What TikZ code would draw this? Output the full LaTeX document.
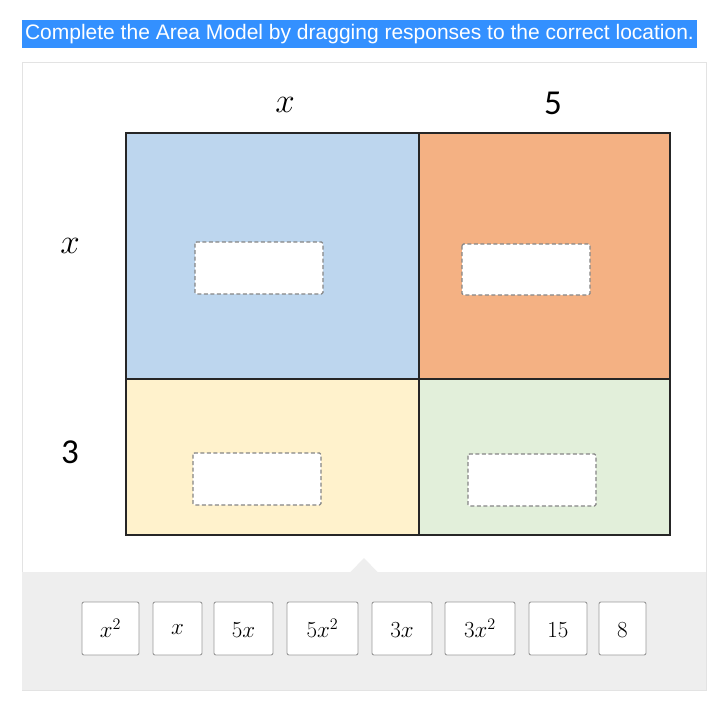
\RequirePackage{fix-cm}
\documentclass[tikz,border=0pt]{standalone}
\usepackage{fontspec}
\setmainfont{Liberation Sans}
\newfontfamily\calib{Carlito}
\definecolor{hlblue}{HTML}{3390FF}
\definecolor{cblue}{HTML}{BDD6EE}
\definecolor{corange}{HTML}{F4B183}
\definecolor{cyellow}{HTML}{FFF2CC}
\definecolor{cgreen}{HTML}{E2EFDA}
\definecolor{tray}{HTML}{EEEEEE}
\definecolor{panelline}{HTML}{E3E3E3}
\definecolor{dashgray}{HTML}{858585}
\definecolor{tileline}{HTML}{9A9A9A}
\tikzset{
  cell/.style={draw=black!85, line width=1.1pt},
  dropbox/.style={draw=dashgray, fill=white, line width=1.1pt, dash pattern=on 4pt off 2.5pt, rounded corners=1.5pt},
  tile/.style={draw=tileline, fill=white, line width=0.9pt, rounded corners=2pt},
  tiletxt/.style={font=\fontsize{23}{26}\selectfont},
  axlab/.style={font=\calib\fontsize{35}{40}\selectfont},
  axvar/.style={font=\fontsize{35}{40}\selectfont}
}
\begin{document}
\begin{tikzpicture}[x=1pt,y=-1pt]
\useasboundingbox (0,0) rectangle (723,715);
\fill[white] (0,0) rectangle (723,715);
% header
\fill[hlblue] (22,20) rectangle (697,48);
\node[text=white, font=\fontsize{21}{24}\selectfont, anchor=center] (title) at (359.5,34) {Complete the Area Model by dragging responses to the correct location.};
% panel
\draw[panelline, line width=0.8pt] (22,62) rectangle (706,690);
% tray
\fill[tray] (22.4,572) rectangle (705.6,689.6);
\fill[tray] (350,572.5) -- (364,558) -- (378,572.5) -- cycle;
% grid cells
\fill[cblue] (126,133) rectangle (419,379);
\fill[corange] (419,133) rectangle (670,379);
\fill[cyellow] (126,379) rectangle (419,535);
\fill[cgreen] (419,379) rectangle (670,535);
\draw[cell] (126,133) rectangle (670,535);
\draw[cell] (419,133) -- (419,535);
\draw[cell] (126,379) -- (670,379);
% axis labels
\node[axvar] (tx) at (285,105) {$x$};
\node[axlab] (t5) at (553,103.5) {5};
\node[axvar] (lx) at (70,245.5) {$x$};
\node[axlab] (l3) at (70,452.5) {3};
% drop boxes
\draw[dropbox] (195,242) rectangle (323,294);
\draw[dropbox] (462,244) rectangle (590,295);
\draw[dropbox] (193,453) rectangle (321,505);
\draw[dropbox] (468,454) rectangle (596,506);
% tiles
\draw[tile] (82,602) rectangle (139,655);
\node[tiletxt] (r1) at (110.5,628) {$x^2$};
\draw[tile] (153,602) rectangle (202,655);
\node[tiletxt] (r2) at (177.5,630) {$x$};
\draw[tile] (214,602) rectangle (273,655);
\node[tiletxt] (r3) at (243.5,630) {$5x$};
\draw[tile] (287,602) rectangle (358,655);
\node[tiletxt] (r4) at (322.5,628) {$5x^2$};
\draw[tile] (372,602) rectangle (432,655);
\node[tiletxt] (r5) at (402,630) {$3x$};
\draw[tile] (445,602) rectangle (515,655);
\node[tiletxt] (r6) at (480,628) {$3x^2$};
\draw[tile] (529,602) rectangle (587,655);
\node[tiletxt] (r7) at (558,630) {$15$};
\draw[tile] (599,602) rectangle (646,655);
\node[tiletxt] (r8) at (622.5,630) {$8$};
\end{tikzpicture}
\end{document}
